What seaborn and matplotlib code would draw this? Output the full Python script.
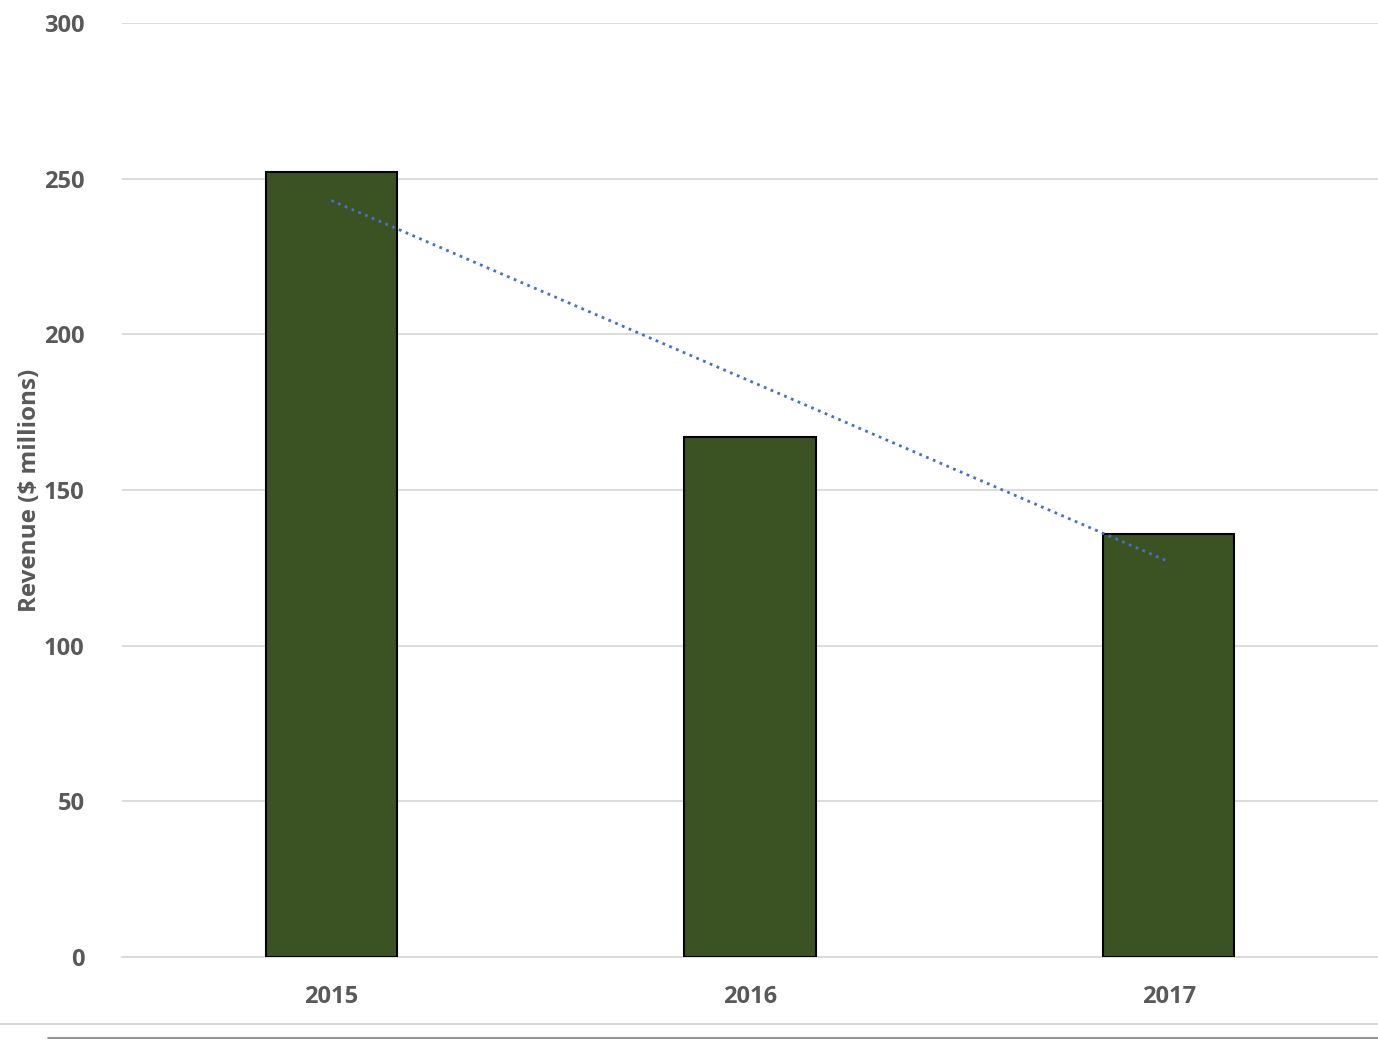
import numpy as np
import pandas as pd
import matplotlib
matplotlib.use('Agg')
import matplotlib.pyplot as plt
from matplotlib.lines import Line2D
import seaborn as sns

# values
years = ['2015', '2016', '2017']
revenue = [252, 167, 136]

df = pd.DataFrame({'Year': years, 'Revenue': revenue})
df['pos'] = np.arange(len(years))

sns.set_theme(style='white')
plt.rcParams['font.family'] = ['Open Sans', 'DejaVu Sans']

fig = plt.figure(figsize=(13.78, 10.39), dpi=100)
ax = fig.add_axes([0.0885, 0.0789, 0.9115, 0.899])

sns.barplot(data=df, x='Year', y='Revenue', color='#3B5323', saturation=1,
            width=0.313, edgecolor='black', linewidth=1.5, ax=ax, zorder=3)

# linear trendline, dotted, drawn over the bars
sns.regplot(data=df, x='pos', y='Revenue', scatter=False, ci=None, truncate=True,
            line_kws={'color': '#4472C4', 'linestyle': ':', 'linewidth': 2, 'zorder': 5}, ax=ax)

ax.set_xlim(-0.5, 2.5)
ax.set_ylim(0, 300)
ax.set_yticks(range(0, 301, 50))
ax.set_xticks(df['pos'])
ax.set_xticklabels(years)
ax.yaxis.grid(True, color='#D9D9D9', linewidth=1.3, zorder=0)
ax.set_axisbelow(True)
for s in ['top', 'right', 'left']:
    ax.spines[s].set_visible(False)
ax.spines['bottom'].set_color('#D9D9D9')
ax.spines['bottom'].set_linewidth(1.3)

ax.tick_params(axis='both', length=0, labelsize=17, labelcolor='#595959')
ax.tick_params(axis='y', pad=27)
ax.tick_params(axis='x', pad=20)
for lbl in ax.get_xticklabels() + ax.get_yticklabels():
    lbl.set_fontweight('bold')

ax.set_xlabel('')
ax.set_ylabel('Revenue ($ millions)', fontsize=17.5, fontweight='bold', color='#595959', labelpad=1)

# chart frame remnants at the bottom of the screenshot
fig.add_artist(Line2D([0, 1], [1 - 1024 / 1039] * 2, color='#D9D9D9', linewidth=1.5))
fig.add_artist(Line2D([48 / 1378, 1], [1 - 1037.5 / 1039] * 2, color='#7F7F7F', linewidth=1.2))

fig.savefig('out.png', dpi=100)
